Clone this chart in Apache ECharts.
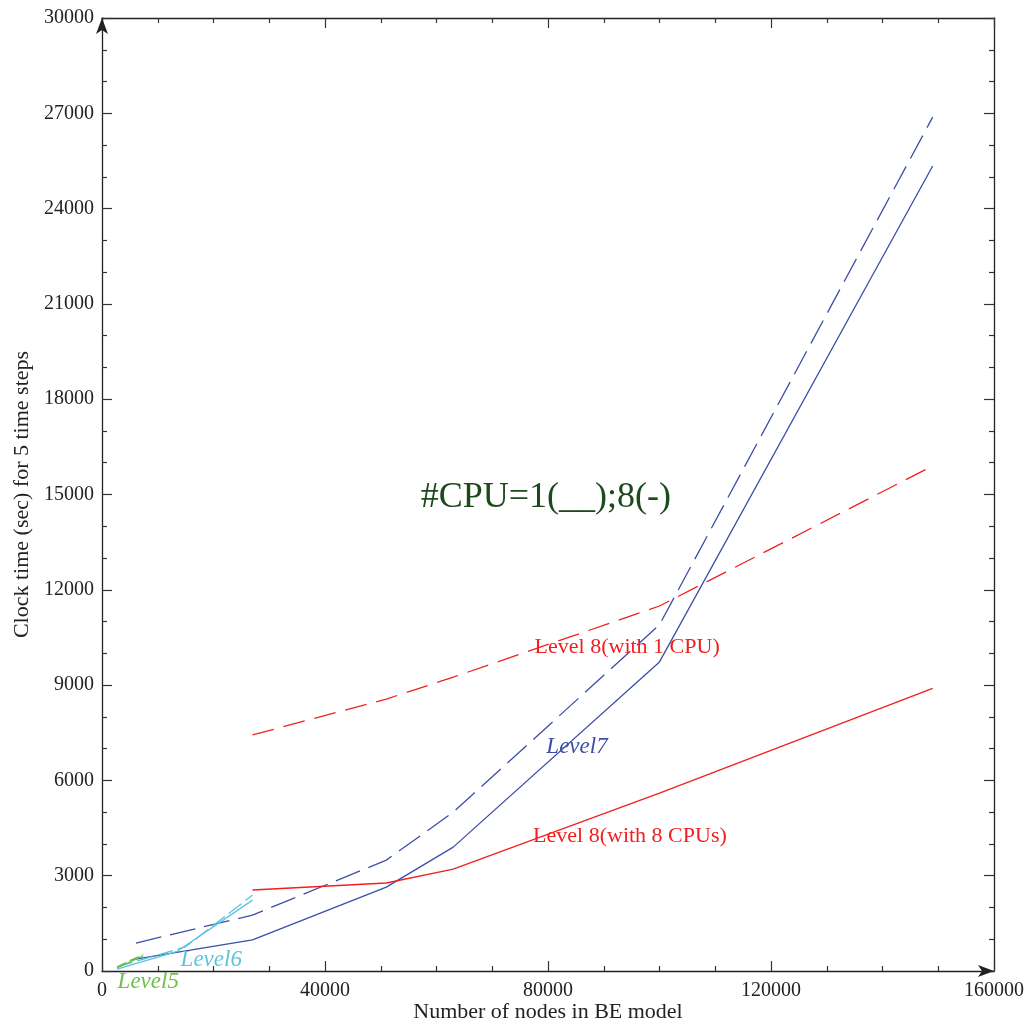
<!DOCTYPE html>
<html>
<head>
<meta charset="utf-8">
<script src="https://cdn.jsdelivr.net/npm/echarts@6/dist/echarts.min.js"></script>
<style>html,body{margin:0;padding:0;background:#fff}#c{width:1032px;height:1025px}</style>
</head>
<body>
<div id="c"></div>
<script>
// ---- data ----
const xTicks = [0, 40000, 80000, 120000, 160000];
const yTicks = [0, 3000, 6000, 9000, 12000, 15000, 18000, 21000, 24000, 27000, 30000];

const level7_1cpu = [[6100, 880], [27000, 1760], [51000, 3490], [63000, 5000], [100000, 10900], [149000, 26880]];
const level7_8cpu = [[5200, 350], [27000, 980], [51000, 2640], [63000, 3900], [100000, 9730], [149000, 25340]];
const level8_1cpu = [[27000, 7430], [51000, 8560], [63000, 9250], [100000, 11490], [149000, 15900]];
const level8_8cpu = [[27000, 2550], [51000, 2770], [63000, 3210], [100000, 5600], [149000, 8900]];
const level6_1cpu = [[2700, 130], [15000, 760], [27000, 2390]];
const level6_8cpu = [[2700, 60], [13500, 620], [27000, 2230]];
const level5_1cpu = [[2700, 130], [7400, 520]];
const level5_8cpu = [[2700, 100], [7400, 480]];

const labels = [
  { text: 'Level7', at: [85200, 7110], color: '#3b4fa8', italic: true, size: 23 },
  { text: 'Level6', at: [19600, 410], color: '#5bc4de', italic: true, size: 23 },
  { text: 'Level5', at: [8300, 0], color: '#6cbf4a', italic: true, size: 23, dy: 9 },
  { text: 'Level 8(with 1 CPU)', at: [94200, 10260], color: '#f02020', italic: false, size: 22 },
  { text: 'Level 8(with 8 CPUs)', at: [94700, 4310], color: '#f02020', italic: false, size: 22 },
  { text: '#CPU=1(__);8(-)', at: [79600, 14980], color: '#1d4a1d', italic: false, size: 36 }
];

const FONT = 'Liberation Serif';
const BLUE = '#3b4fa8', RED = '#f02020', CYAN = '#5bc4de', GREEN = '#6cbf4a';

function line(name, data, color, dashed) {
  return {
    name, type: 'line', data, showSymbol: false, symbol: 'none', silent: true,
    xAxisIndex: 0, yAxisIndex: 0,
    lineStyle: { color, width: 1.3, type: dashed ? dashed : 'solid' }
  };
}

const tickStyle = { color: '#333', width: 1.2 };
function axis(extra, splitNum, primary) {
  return Object.assign({
    type: 'value',
    axisLine: primary
      ? { show: true, onZero: false, symbol: ['none', 'arrow'], symbolSize: [9, 16], lineStyle: { color: '#222', width: 1.3 } }
      : { show: true, onZero: false, lineStyle: { color: '#222', width: 1.3 } },
    axisTick: { show: true, inside: true, length: 10, lineStyle: tickStyle },
    minorTick: { show: true, splitNumber: splitNum, length: 5, lineStyle: tickStyle },
    splitLine: { show: false },
    minorSplitLine: { show: false }
  }, extra);
}

const option = {
  animation: false,
  backgroundColor: '#fff',
  textStyle: { fontFamily: FONT },
  grid: { left: 102, right: 38, top: 18, bottom: 54, containLabel: false, outerBoundsMode: 'none' },
  xAxis: [
    axis({
      position: 'bottom', min: xTicks[0], max: xTicks[xTicks.length - 1], interval: xTicks[1] - xTicks[0],
      axisLabel: { fontFamily: FONT, fontSize: 20, color: '#222', margin: 10, formatter: v => String(v) },
      name: 'Number of nodes in BE model', nameLocation: 'middle', nameGap: 30, nameMoveOverlap: false,
      nameTextStyle: { fontFamily: FONT, fontSize: 22, color: '#222' }
    }, 4, true),
    axis({
      position: 'top', min: xTicks[0], max: xTicks[xTicks.length - 1], interval: xTicks[1] - xTicks[0],
      axisLabel: { show: false }
    }, 4, false)
  ],
  yAxis: [
    axis({
      position: 'left', min: yTicks[0], max: yTicks[yTicks.length - 1], interval: yTicks[1] - yTicks[0],
      axisLabel: { fontFamily: FONT, fontSize: 20, color: '#222', margin: 8, formatter: v => String(v) },
      name: 'Clock time (sec) for 5 time steps', nameLocation: 'middle', nameGap: 69, nameRotate: 90, nameMoveOverlap: false,
      nameTextStyle: { fontFamily: FONT, fontSize: 22, color: '#222' }
    }, 3, true),
    axis({
      position: 'right', min: yTicks[0], max: yTicks[yTicks.length - 1], interval: yTicks[1] - yTicks[0],
      axisLabel: { show: false }
    }, 3, false)
  ],
  series: [
    line('Level7 1CPU', level7_1cpu, BLUE, [26, 9]),
    line('Level7 8CPU', level7_8cpu, BLUE, null),
    line('Level8 1CPU', level8_1cpu, RED, [22, 10]),
    line('Level8 8CPU', level8_8cpu, RED, null),
    line('Level6 1CPU', level6_1cpu, CYAN, [16, 5]),
    line('Level6 8CPU', level6_8cpu, CYAN, null),
    line('Level5 1CPU', level5_1cpu, GREEN, [10, 4]),
    line('Level5 8CPU', level5_8cpu, GREEN, null),
    {
      type: 'scatter', xAxisIndex: 0, yAxisIndex: 0, silent: true, symbolSize: 0, data: [],
      markPoint: {
        symbol: 'circle', symbolSize: 0, silent: true, animation: false,
        data: labels.map(l => ({
          coord: l.at,
          label: {
            show: true, position: 'inside', offset: [0, (l.dy || 0) + 2], formatter: l.text,
            color: l.color, fontFamily: FONT, fontSize: l.size,
            fontStyle: l.italic ? 'italic' : 'normal'
          }
        }))
      }
    }
  ]
};

const chart = echarts.init(document.getElementById('c'), null, { renderer: 'canvas' });
chart.setOption(option);
</script>
</body>
</html>
